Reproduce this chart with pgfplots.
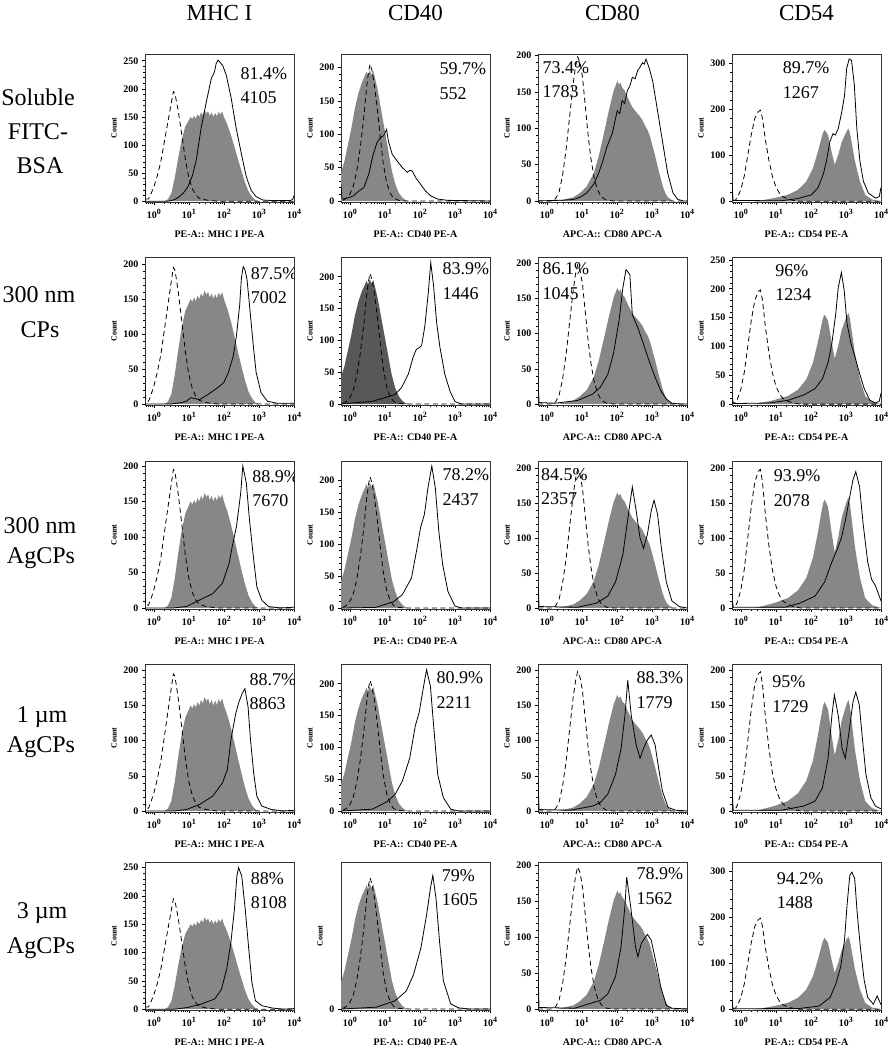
\documentclass[border=0pt]{standalone}
\usepackage{fontspec}
\setmainfont{Liberation Serif}
\usepackage{pgfplots}
\usepackage{pgfplotstable}
\pgfplotsset{compat=1.18}
\definecolor{fillg}{RGB}{135,135,135}
\definecolor{fillgd}{RGB}{88,88,88}
\newcommand\pctfont{\fontsize{18}{20}\selectfont}
\newcommand\hdrfont{\fontsize{23}{26}\selectfont}
\newcommand\rowfont{\fontsize{24}{28}\selectfont}
\newcommand\tl[1]{10\raisebox{3.6pt}{\fontsize{8}{8}\selectfont #1}}

% ---------- MHC I ----------
\pgfplotstableread{
x y
-0.25 50
-0.23 4
-0.15 4
-0.1 10
0 25
0.1 45
0.2 70
0.3 105
0.4 140
0.5 175
0.56 195
0.6 192
0.64 180
0.7 160
0.8 118
0.9 75
1.0 42
1.1 22
1.2 11
1.3 5
1.5 2
1.8 0
4 0
}\dA
\pgfplotstableread{
x y
0.3 0
0.4 3
0.5 14
0.6 42
0.7 78
0.8 110
0.9 133
1.0 144
1.05 150
1.1 146
1.15 152
1.2 147
1.25 155
1.3 150
1.35 158
1.4 153
1.45 162
1.5 156
1.55 160
1.6 152
1.65 158
1.7 150
1.75 157
1.8 151
1.85 159
1.9 154
1.95 160
2.0 150
2.05 143
2.1 136
2.2 118
2.3 97
2.4 75
2.5 54
2.6 34
2.7 18
2.8 8
2.9 2
3.0 0
}\gA
\pgfplotstableread{
x y
-0.25 0
0.4 0
0.5 1
0.6 3
0.73 8
0.85 15
0.97 25
1.1 45
1.21 72
1.35 130
1.5 177
1.64 218
1.73 230
1.78 245
1.83 251
1.88 248
1.97 241
2.07 224
2.21 183
2.35 130
2.5 84
2.64 43
2.78 19
2.92 8
3.11 2
3.4 1
3.9 1
3.97 4
4.0 10
}\sAa
\pgfplotstableread{
x y
-0.25 0
0.5 0
0.8 2
0.93 4
1.06 9
1.15 8
1.3 6
1.53 13
1.76 21
1.99 30
2.13 45
2.27 69
2.36 98
2.45 141
2.5 180
2.55 196
2.6 192
2.66 178
2.75 131
2.84 83
2.92 45
3.06 16
3.24 4
3.52 1
4 1
}\sAb
\pgfplotstableread{
x y
-0.25 0
0.56 0
0.93 2
1.3 11
1.68 20
1.96 35
2.15 63
2.24 87
2.36 115
2.48 162
2.54 200
2.64 176
2.73 124
2.85 68
2.94 30
3.08 11
3.27 2
3.6 0
4 1
}\sAc
\pgfplotstableread{
x y
-0.25 0
0.6 0
0.93 2
1.3 9
1.68 21
1.96 40
2.1 59
2.2 101
2.34 139
2.43 155
2.52 167
2.6 174
2.69 148
2.76 101
2.85 54
2.94 21
3.08 7
3.36 2
3.7 0
4 1
}\sAd
\pgfplotstableread{
x y
-0.25 0
0.6 0
0.97 3
1.35 9
1.74 18
1.93 35
2.08 71
2.2 118
2.3 176
2.37 235
2.42 250
2.51 235
2.61 176
2.71 106
2.8 47
2.9 15
3.09 6
3.38 2
3.7 0
4 1
}\sAe

% ---------- CD40 ----------
\pgfplotstableread{
x y
-0.25 42
-0.15 60
-0.05 85
0.05 110
0.15 140
0.25 162
0.35 178
0.42 186
0.48 194
0.52 188
0.57 196
0.62 189
0.67 195
0.72 184
0.8 165
0.9 135
1.0 105
1.1 75
1.2 45
1.3 25
1.4 12
1.5 5
1.6 1
1.7 0
}\gB
\pgfplotstableread{
x y
-0.2 1
-0.1 4
0 10
0.1 22
0.2 45
0.3 80
0.4 125
0.48 170
0.54 195
0.58 205
0.63 196
0.7 175
0.78 140
0.86 100
0.95 58
1.05 28
1.15 12
1.25 4
1.4 1
1.6 0
4 0
}\dB
\pgfplotstableread{
x y
-0.25 25
-0.22 3
-0.17 3
-0.03 5
0.11 8
0.26 15
0.4 20
0.54 40
0.67 70
0.78 88
0.88 95
0.97 98
1.05 107
1.1 90
1.21 70
1.35 60
1.5 50
1.64 43
1.72 46
1.78 45
1.88 35
2.02 25
2.16 15
2.3 8
2.5 3
2.78 1
4 0
}\sBa
\pgfplotstableread{
x y
-0.25 0
0.14 2
0.62 4
1.0 10
1.29 15
1.48 26
1.67 47
1.81 74
1.9 86
1.97 88
2.05 92
2.14 122
2.24 175
2.31 222
2.39 186
2.48 127
2.57 90
2.71 47
2.86 20
3.0 4
3.19 0
4 0
}\sBb
\pgfplotstableread{
x y
-0.25 0
0.74 1
1.25 10
1.5 21
1.76 47
1.92 94
2.02 126
2.13 147
2.23 188
2.34 222
2.44 188
2.54 120
2.65 68
2.8 26
3.0 3
3.2 0
4 0
}\sBc
\pgfplotstableread{
x y
-0.25 0
0.65 3
1.07 15
1.29 26
1.5 47
1.71 83
1.87 134
1.98 155
2.09 191
2.19 222
2.3 196
2.4 129
2.51 57
2.67 21
2.88 3
3.1 0
4 0
}\sBd
\pgfplotstableread{
x y
-0.25 0
0.76 3
1.29 13
1.61 28
1.82 54
2.03 96
2.19 147
2.3 189
2.37 209
2.46 173
2.56 106
2.67 44
2.88 8
3.1 2
3.4 0
4 0
}\sBe

% ---------- CD80 ----------
\pgfplotstableread{
x y
-0.25 0
0.15 0
0.25 3
0.35 12
0.45 35
0.55 70
0.65 115
0.75 160
0.82 185
0.88 198
0.95 190
1.02 170
1.1 130
1.18 90
1.26 58
1.35 32
1.45 15
1.55 6
1.7 1
1.9 0
4 0
}\dC
\pgfplotstableread{
x y
0.3 0
0.5 2
0.76 5
0.95 11
1.14 20
1.34 38
1.48 61
1.63 93
1.77 124
1.91 152
1.96 158
2.01 165
2.06 160
2.1 163
2.15 156
2.22 152
2.3 143
2.37 136
2.44 129
2.52 124
2.59 120
2.66 116
2.73 111
2.8 104
2.88 97
2.95 88
3.02 75
3.09 62
3.16 48
3.24 33
3.31 20
3.38 11
3.45 5
3.6 0
}\gC
\pgfplotstableread{
x y
-0.25 0
0.47 1
0.76 2
0.95 5
1.14 11
1.34 23
1.48 38
1.58 52
1.72 75
1.87 93
2.01 124
2.08 120
2.15 138
2.22 134
2.3 152
2.37 158
2.44 170
2.52 168
2.59 179
2.66 184
2.73 190
2.78 188
2.83 195
2.92 183
3.02 165
3.16 124
3.31 79
3.45 38
3.6 11
3.74 2
3.9 0
4 0
}\sCa
\pgfplotstableread{
x y
-0.25 40
-0.22 2
0.24 1
0.88 5
1.31 14
1.53 24
1.74 42
1.9 71
2.06 118
2.17 165
2.26 191
2.31 188
2.37 184
2.44 127
2.6 108
2.76 85
2.92 61
3.09 38
3.25 19
3.41 7
3.57 1
3.8 0
4 0
}\sCb
\pgfplotstableread{
x y
-0.25 40
-0.22 2
0.88 1
1.42 7
1.74 17
1.96 37
2.17 76
2.33 134
2.44 173
2.55 139
2.66 100
2.76 85
2.87 105
2.98 139
3.06 154
3.16 134
3.27 85
3.41 37
3.57 10
3.78 2
4 0
}\sCc
\pgfplotstableread{
x y
-0.25 45
-0.22 2
0.67 1
1.31 7
1.53 12
1.74 24
1.96 52
2.12 89
2.23 136
2.31 186
2.41 136
2.55 94
2.66 75
2.76 89
2.87 101
2.98 108
3.09 94
3.19 61
3.3 28
3.46 5
3.68 1
4 0
}\sCd
\pgfplotstableread{
x y
-0.25 50
-0.22 2
0.8 1
1.53 12
1.74 21
1.96 45
2.12 87
2.23 144
2.28 184
2.39 144
2.53 87
2.6 73
2.7 92
2.87 104
2.98 96
3.12 64
3.25 31
3.41 5
3.57 1
4 0
}\sCe

% ---------- CD54 ----------
\pgfplotstableread{
x y
-0.25 20
-0.22 1
-0.15 3
-0.1 8
0 25
0.1 55
0.2 100
0.3 145
0.4 180
0.5 195
0.56 198
0.62 180
0.7 135
0.8 90
0.9 55
1.0 32
1.1 18
1.2 10
1.35 5
1.5 2
1.7 0
4 0
}\dD
\pgfplotstableread{
x y
0.4 0
0.5 1
0.95 7
1.34 14
1.63 25
1.87 43
2.06 72
2.2 108
2.3 137
2.35 150
2.39 155
2.44 150
2.49 144
2.59 108
2.68 79
2.78 101
2.88 129
2.97 144
3.02 152
3.07 158
3.11 150
3.16 129
3.26 86
3.4 43
3.55 14
3.74 4
3.93 1
4 0
}\gD
\pgfplotstableread{
x y
-0.25 40
-0.22 2
1.14 1
1.63 6
2.01 14
2.2 29
2.35 58
2.44 86
2.54 129
2.63 147
2.7 144
2.78 158
2.88 194
2.96 230
3.02 288
3.09 309
3.16 306
3.24 252
3.31 158
3.4 86
3.5 43
3.64 18
3.84 7
3.95 10
4.0 30
}\sDa
\pgfplotstableread{
x y
-0.25 15
-0.22 1
0.83 2
1.37 7
1.8 16
2.12 27
2.33 44
2.49 72
2.6 106
2.71 157
2.78 202
2.87 228
2.95 197
3.03 140
3.14 106
3.25 84
3.35 61
3.52 27
3.68 7
3.84 2
3.95 5
4.0 19
}\sDb
\pgfplotstableread{
x y
-0.25 10
-0.22 1
1.26 1
1.69 7
2.12 17
2.39 37
2.6 66
2.76 85
2.87 100
2.98 124
3.09 154
3.2 183
3.28 195
3.39 173
3.49 120
3.62 66
3.73 41
3.84 32
3.95 17
4 10
}\sDc
\pgfplotstableread{
x y
-0.25 42
-0.22 1
1.15 1
1.8 7
2.12 14
2.33 33
2.49 75
2.6 136
2.67 165
2.78 136
2.89 89
2.98 75
3.09 113
3.2 155
3.28 169
3.38 151
3.46 108
3.57 52
3.71 19
3.84 7
4 3
}\sDd
\pgfplotstableread{
x y
-0.25 20
-0.22 1
1.69 2
2.23 7
2.55 26
2.71 55
2.85 92
2.96 151
3.03 225
3.11 291
3.17 298
3.25 284
3.32 210
3.41 136
3.52 63
3.62 26
3.78 11
3.89 29
4 10
}\sDe

\pgfplotsset{
 panel/.style={
  width=149pt,height=148pt,scale only axis,
  xmin=-0.25,xmax=4,ymin=-1.5,
  xtick={0,1,2,3,4},
  xticklabels={\tl{0},\tl{1},\tl{2},\tl{3},\tl{4}},
  minor xtick={-0.222,-0.155,-0.097,-0.046,
   0.301,0.477,0.602,0.699,0.778,0.845,0.903,0.954,
   1.301,1.477,1.602,1.699,1.778,1.845,1.903,1.954,
   2.301,2.477,2.602,2.699,2.778,2.845,2.903,2.954,
   3.301,3.477,3.602,3.699,3.778,3.845,3.903,3.954},
  minor y tick num=4,
  tick pos=left, tick align=outside,
  major tick length=3pt, minor tick length=1.6pt,
  every tick/.style={black,line width=0.5pt},
  axis line style={black!80,line width=0.7pt},
  tick label style={font=\fontsize{10}{10}\selectfont\bfseries},
  xticklabel style={yshift=-1pt},
  /pgf/number format/assume math mode=true,
  ylabel={Count},
  ylabel style={font=\fontsize{8}{8}\selectfont\bfseries},
  xlabel style={font=\fontsize{10}{10}\selectfont\bfseries,yshift=-5pt},
 },
 dashline/.style={black,line width=0.8pt,dash pattern=on 5pt off 3.5pt},
 solidline/.style={black,line width=0.8pt},
}

\newcommand{\panelplot}[9]{%
\begin{axis}[panel,#1]
\addplot[fill=#5,draw=none] table {#2} \closedcycle;
\addplot[dashline] table {#3};
\addplot[solidline] table {#4};
\node[anchor=west,inner sep=0pt,font=\pctfont] (pp) at (rel axis cs:#6,#7) {#8};
\node[anchor=west,inner sep=0pt,font=\pctfont] at ([yshift=-24.5pt]pp.west) {#9};
\end{axis}}

\begin{document}
\begin{tikzpicture}
\useasboundingbox (0pt,0pt) rectangle (887pt,-1050pt);

% column headers
\node[anchor=base,font=\hdrfont] at (219.5pt,-20pt) {MHC I};
\node[anchor=base,font=\hdrfont] at (415.5pt,-20pt) {CD40};
\node[anchor=base,font=\hdrfont] at (612.5pt,-20pt) {CD80};
\node[anchor=base,font=\hdrfont] at (806.5pt,-20pt) {CD54};

% row labels
\node[anchor=base,font=\rowfont] at (38pt,-105pt) {Soluble};
\node[anchor=base,font=\rowfont] at (38pt,-139pt) {FITC-};
\node[anchor=base,font=\rowfont] at (40pt,-173pt) {BSA};
\node[anchor=base,font=\rowfont] at (39pt,-302pt) {300 nm};
\node[anchor=base,font=\rowfont] at (40pt,-337pt) {CPs};
\node[anchor=base,font=\rowfont] at (40pt,-533pt) {300 nm};
\node[anchor=base,font=\rowfont] at (41pt,-563pt) {AgCPs};
\node[anchor=base,font=\rowfont] at (42pt,-722pt) {1 µm};
\node[anchor=base,font=\rowfont] at (41pt,-752pt) {AgCPs};
\node[anchor=base,font=\rowfont] at (42pt,-918pt) {3 µm};
\node[anchor=base,font=\rowfont] at (41pt,-953pt) {AgCPs};

% ---- row 1 ----
\panelplot{at={(145pt,-202pt)},ymax=262,ytick={0,50,...,250},xlabel={PE-A:: MHC I PE-A}}{\gA}{\dA}{\sAa}{fillg}{0.64}{0.87}{81.4\%}{4105}
\panelplot{at={(341pt,-202pt)},ymax=220,ytick={0,50,...,200},xlabel={PE-A:: CD40 PE-A}}{\gB}{\dB}{\sBa}{fillg}{0.66}{0.90}{59.7\%}{552}
\panelplot{at={(538pt,-202pt)},ymax=202,ytick={0,50,...,200},xlabel={APC-A:: CD80 APC-A}}{\gC}{\dC}{\sCa}{fillg}{0.03}{0.91}{73.4\%}{1783}
\panelplot{at={(732pt,-202pt)},ymax=320,ytick={0,100,...,300},xlabel={PE-A:: CD54 PE-A}}{\gD}{\dD}{\sDa}{fillg}{0.34}{0.905}{89.7\%}{1267}
% ---- row 2 ----
\panelplot{at={(145pt,-405pt)},ymax=210,ytick={0,50,...,200},xlabel={PE-A:: MHC I PE-A}}{\gA}{\dA}{\sAb}{fillg}{0.71}{0.89}{87.5\%}{7002}
\panelplot{at={(341pt,-405pt)},ymax=231,ytick={0,50,...,200},xlabel={PE-A:: CD40 PE-A}}{\gB}{\dB}{\sBb}{fillgd}{0.68}{0.92}{83.9\%}{1446}
\panelplot{at={(538pt,-405pt)},ymax=209,ytick={0,50,...,200},xlabel={APC-A:: CD80 APC-A}}{\gC}{\dC}{\sCb}{fillg}{0.03}{0.92}{86.1\%}{1045}
\panelplot{at={(732pt,-405pt)},ymax=255,ytick={0,50,...,250},xlabel={PE-A:: CD54 PE-A}}{\gD}{\dD}{\sDb}{fillg}{0.29}{0.91}{96\%}{1234}
% ---- row 3 ----
\panelplot{at={(145pt,-609pt)},ymax=207,ytick={0,50,...,200},xlabel={PE-A:: MHC I PE-A}}{\gA}{\dA}{\sAc}{fillg}{0.72}{0.895}{88.9\%}{7670}
\panelplot{at={(341pt,-609pt)},ymax=230,ytick={0,50,...,200},xlabel={PE-A:: CD40 PE-A}}{\gB}{\dB}{\sBc}{fillg}{0.68}{0.905}{78.2\%}{2437}
\panelplot{at={(538pt,-609pt)},ymax=210,ytick={0,50,...,200},xlabel={APC-A:: CD80 APC-A}}{\gC}{\dC}{\sCc}{fillg}{0.02}{0.91}{84.5\%}{2357}
\panelplot{at={(732pt,-609pt)},ymax=210,ytick={0,50,...,200},xlabel={PE-A:: CD54 PE-A}}{\gD}{\dD}{\sDc}{fillg}{0.28}{0.90}{93.9\%}{2078}
% ---- row 4 ----
\panelplot{at={(145pt,-812pt)},ymax=209,ytick={0,50,...,200},xlabel={PE-A:: MHC I PE-A}}{\gA}{\dA}{\sAd}{fillg}{0.70}{0.895}{88.7\%}{8863}
\panelplot{at={(341pt,-812pt)},ymax=231,ytick={0,50,...,200},xlabel={PE-A:: CD40 PE-A}}{\gB}{\dB}{\sBd}{fillg}{0.64}{0.905}{80.9\%}{2211}
\panelplot{at={(538pt,-812pt)},ymax=209,ytick={0,50,...,200},xlabel={APC-A:: CD80 APC-A}}{\gC}{\dC}{\sCd}{fillg}{0.66}{0.905}{88.3\%}{1779}
\panelplot{at={(732pt,-812pt)},ymax=209,ytick={0,50,...,200},xlabel={PE-A:: CD54 PE-A}}{\gD}{\dD}{\sDd}{fillg}{0.27}{0.88}{95\%}{1729}
% ---- row 5 ----
\panelplot{at={(145pt,-1010pt)},ymax=260,ytick={0,50,...,250},xlabel={PE-A:: MHC I PE-A}}{\gA}{\dA}{\sAe}{fillg}{0.71}{0.89}{88\%}{8108}
\panelplot{at={(341pt,-1010pt)},ymax=230,ytick={0},xlabel={PE-A:: CD40 PE-A}}{\gB}{\dB}{\sBe}{fillg}{0.675}{0.91}{79\%}{1605}
\panelplot{at={(538pt,-1010pt)},ymax=205,ytick={0,50,...,200},xlabel={APC-A:: CD80 APC-A}}{\gC}{\dC}{\sCe}{fillg}{0.66}{0.92}{78.9\%}{1562}
\panelplot{at={(732pt,-1010pt)},ymax=320,ytick={0,100,...,300},xlabel={PE-A:: CD54 PE-A}}{\gD}{\dD}{\sDe}{fillg}{0.30}{0.89}{94.2\%}{1488}
\end{tikzpicture}
\end{document}
